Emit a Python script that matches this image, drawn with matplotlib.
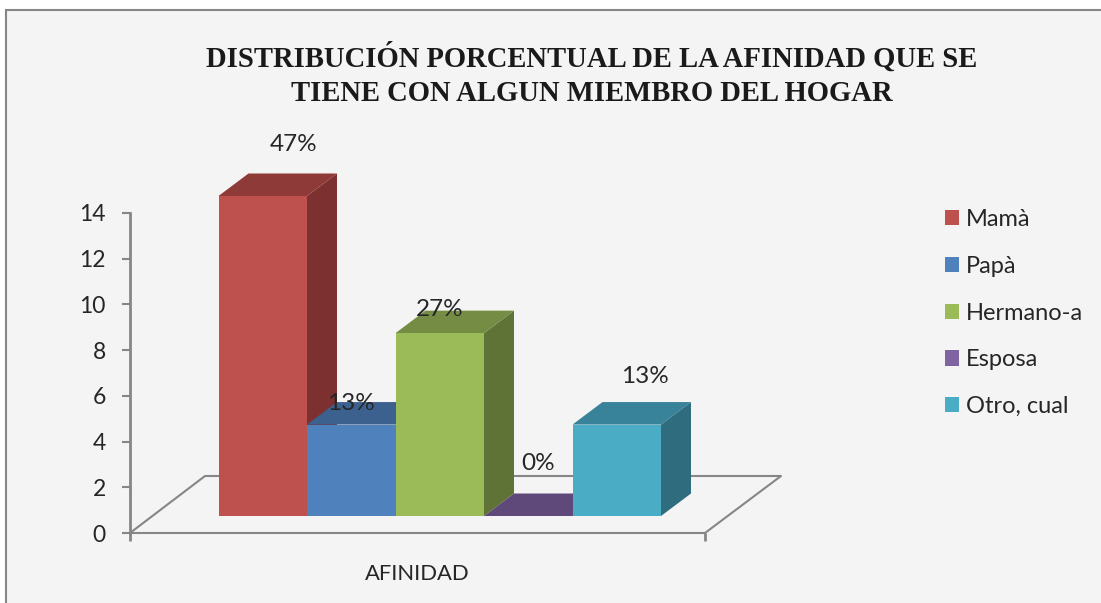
import matplotlib
matplotlib.use("Agg")
import matplotlib.pyplot as plt
from matplotlib.patches import Patch, Polygon, Rectangle

titulo = "DISTRIBUCIÓN PORCENTUAL DE LA AFINIDAD QUE SE\nTIENE CON ALGUN MIEMBRO DEL HOGAR"
categorias = ["Mamà", "Papà", "Hermano-a", "Esposa", "Otro, cual"]
valores = [14, 4, 8, 0, 4]
etiquetas = ["47%", "13%", "27%", "0%", "13%"]
ticks_y = [0, 2, 4, 6, 8, 10, 12, 14]
nombre_x = "AFINIDAD"

# colores: frente, arriba, lado
frente = ["#BE504D", "#4F81BD", "#9BBB59", "#8064A2", "#4BACC6"]
arriba = ["#8E3A38", "#3D618E", "#748C43", "#5F497A", "#38829A"]
lado = ["#7C302F", "#345478", "#5F7337", "#513D69", "#2F6C7D"]

W, H = 1101, 603
GRIS = "#868686"
TEXTO = "#262626"

# escala en pixeles
px_x = 88.5
px_y = 320 / 14
dx = 30 / px_x
dy = 22.5 / px_y
base = 17 / px_y
# desplazamiento de cada etiqueta respecto al centro y al tope de la barra (px)
off_etiqueta = [(31, 51), (0, 21), (0, 24), (10, 52), (28, 48)]

fig = plt.figure(figsize=(W / 100, H / 100), dpi=100, facecolor="white")

# fondo con borde del grafico
fig.add_artist(Rectangle((6 / W, -0.01), 1.1, 1 - 10 / H + 0.01, transform=fig.transFigure,
                         facecolor="#F4F4F4", edgecolor=GRIS, linewidth=1.5, zorder=-1))

ax = fig.add_axes([130 / W, (H - 533) / H, 575 / W, 320 / H])
ax.patch.set_alpha(0)
ax.set_xlim((130 - 218.5) / px_x, (705 - 218.5) / px_x)
ax.set_ylim(0, 14)

# piso
x0, x1 = ax.get_xlim()
piso_x = [x0, x0 + 75 / px_x, x1 + 76 / px_x, x1]
piso_y = [0, 57 / px_y, 57 / px_y, 0]
ax.plot(piso_x, piso_y, color=GRIS, lw=1.5, clip_on=False, zorder=1)

for i, v in enumerate(valores):
    xa, xb = i, i + 1
    y0, y1 = base, base + v
    ax.add_patch(Polygon([(xb, y0), (xb + dx, y0 + dy), (xb + dx, y1 + dy), (xb, y1)],
                         facecolor=lado[i], edgecolor="none", clip_on=False, zorder=2))
    ax.add_patch(Polygon([(xa, y1), (xa + dx, y1 + dy), (xb + dx, y1 + dy), (xb, y1)],
                         facecolor=arriba[i], edgecolor="none", clip_on=False, zorder=2))
    if v > 0:
        ax.add_patch(Rectangle((xa, y0), 1, v, facecolor=frente[i], edgecolor="none",
                               clip_on=False, zorder=2))
    ox, oy = off_etiqueta[i]
    ax.annotate(etiquetas[i], (xa + 0.5, y1), xytext=(ox * 0.72, oy * 0.72),
                textcoords="offset points", ha="center", va="center",
                fontsize=17.5, color=TEXTO, family="Lato", zorder=5, annotation_clip=False)

ax.set_yticks(ticks_y)
ax.set_xticks([x0, x1])
ax.set_xticklabels([])
ax.tick_params(axis="y", length=6, width=1.5, color=GRIS, labelsize=16.5, labelcolor=TEXTO, pad=11.5)
ax.tick_params(axis="x", length=6, width=2, color=GRIS)
for t in ax.get_yticklabels():
    t.set_family("Lato")
for s in ["top", "right"]:
    ax.spines[s].set_visible(False)
for s in ["left", "bottom"]:
    ax.spines[s].set_color(GRIS)
ax.spines["left"].set_linewidth(2)
ax.spines["bottom"].set_linewidth(1.5)

fig.text(417 / W, 1 - 574 / H, nombre_x, ha="center", va="center", fontsize=15.8,
         color=TEXTO, family="Lato")
fig.text(592 / W, 1 - 74.5 / H, titulo, ha="center", va="center", fontsize=20.6, fontweight="bold",
         family="Liberation Serif", color="#1A1A1A", linespacing=1.36)

handles = [Patch(facecolor=c, edgecolor="none", label=n) for c, n in zip(frente, categorias)]
fig.legend(handles=handles, loc="upper left", bbox_to_anchor=(938 / W, 1 - 202 / H),
           frameon=False, prop={"family": "Lato", "size": 17}, labelcolor=TEXTO,
           handlelength=0.6, handleheight=0.62, handletextpad=0.3, labelspacing=1.09,
           borderpad=0.3, borderaxespad=0)

fig.savefig("out.png", dpi=100)
